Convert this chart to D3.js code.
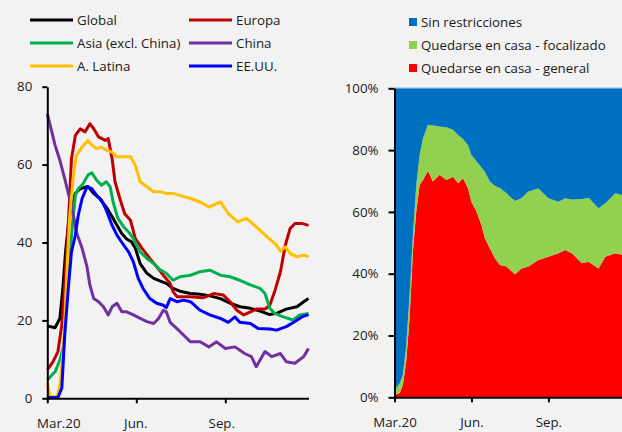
<!DOCTYPE html>
<html><head><meta charset="utf-8">
<script src="https://cdn.jsdelivr.net/npm/d3@7"></script>
<style>
html,body{margin:0;padding:0;background:#F2F2F2;}
svg{display:block;font-family:"Open Sans",sans-serif;}
</style></head><body>
<svg id="c" width="622" height="432"></svg>
<script>
// ---------- DATA (day offset from 1 Mar 2020, value) ----------
const seriesNames = ["Global","Europa","Asia (excl. China)","China","A. Latina","EE.UU."];
const seriesColors = ["#000000","#C00000","#00B050","#7030A0","#FFC000","#0000FF"];

const globalVals = [[0,18.6],[8,18.1],[13,20.5],[16,28],[19,38],[22,45],[25,50],[29,52.6],[34,53.8],[42,54.4],[48,52.6],[54,51.3],[61,49.1],[67,46.6],[72,44.4],[77,42.3],[82,40.9],[87,40.2],[91,38.5],[96,34.6],[103,32.1],[110,30.8],[117,30.1],[123,29.5],[130,28.2],[137,27.5],[148,26.9],[158,26.7],[168,26.3],[179,25.6],[189,24.4],[199,23.5],[210,23.1],[220,22.4],[230,21.5],[237,21.8],[247,22.9],[258,23.5],[265,24.8],[270,25.6]];
const europaVals = [[0,7.3],[6,9.4],[11,12.0],[15,18.8],[18,29.1],[22,46.2],[25,61.5],[29,67.5],[34,69.2],[39,68.4],[44,70.5],[48,69.2],[53,67.1],[60,66.2],[63,66.7],[67,61.5],[70,55.6],[75,51.3],[80,47.4],[86,45.7],[91,41.0],[98,38.5],[106,35.9],[113,33.8],[120,31.6],[127,29.5],[130,27.4],[134,26.1],[148,26.1],[161,25.8],[172,26.9],[182,26.5],[189,24.8],[196,22.6],[203,21.4],[210,22.2],[216,22.9],[225,22.9],[230,23.9],[235,27.4],[241,32.5],[246,39.3],[251,43.6],[256,44.9],[263,44.9],[270,44.4]];
const asiaVals = [[0,4.7],[8,6.8],[13,9.8],[17,13.7],[20,24.8],[25,41.9],[29,52.1],[32,53.8],[37,55.1],[42,57.3],[46,57.9],[51,56.0],[56,54.7],[61,55.6],[65,54.3],[68,50.4],[73,46.2],[79,44.0],[84,42.7],[89,41.0],[96,37.6],[103,35.9],[110,34.6],[117,32.9],[123,32.1],[130,30.3],[137,31.2],[148,31.6],[158,32.5],[168,32.9],[179,31.6],[189,31.2],[199,30.3],[210,29.1],[220,28.2],[225,26.9],[230,23.1],[235,21.8],[244,20.9],[254,20.1],[261,21.4],[270,21.8]];
const chinaVals = [[0,73.1],[3,70.1],[8,65.0],[13,61.1],[18,56.4],[23,51.3],[27,47.0],[30,42.7],[36,38.5],[41,33.8],[44,29.1],[48,25.6],[53,24.8],[58,23.5],[63,21.4],[67,23.5],[72,24.4],[77,22.2],[82,22.2],[89,21.4],[96,20.5],[103,19.7],[110,19.2],[115,20.5],[120,22.6],[123,22.2],[127,19.5],[134,17.9],[141,16.2],[148,14.5],[158,14.5],[167,13.2],[175,14.5],[184,12.8],[194,13.2],[204,11.5],[211,10.7],[216,8.1],[225,12.0],[232,10.7],[241,11.5],[247,9.4],[256,9.0],[265,10.7],[270,12.8]];
const latamVals = [[0,3.9],[3,0.4],[10,0.4],[13,3.4],[17,13.7],[20,30.8],[23,46.2],[27,57.3],[30,62.4],[36,64.5],[42,66.2],[46,65.0],[51,64.1],[56,64.5],[61,63.7],[67,63.2],[72,62.0],[79,62.0],[86,62.0],[91,59.8],[96,55.6],[103,54.3],[110,53.0],[117,53.0],[123,52.6],[130,52.6],[137,52.1],[148,51.3],[158,50.4],[167,49.1],[179,50.4],[187,47.4],[197,45.3],[206,46.2],[216,44.0],[227,41.5],[237,39.3],[241,37.8],[246,38.9],[251,37.2],[258,36.3],[265,36.8],[270,36.3]];
const usaVals = [[0,0.2],[11,0.2],[15,2.6],[18,16.2],[22,29.1],[25,37.6],[29,41.9],[32,47.0],[36,51.3],[41,54.3],[46,53.8],[51,52.1],[56,50.9],[61,48.3],[67,44.4],[72,41.9],[79,39.3],[84,37.6],[89,35.0],[94,30.8],[99,28.2],[106,25.6],[113,24.4],[120,23.9],[123,23.3],[127,25.6],[134,24.8],[141,25.2],[148,24.8],[158,22.6],[168,21.4],[179,20.5],[187,19.5],[194,20.9],[199,19.5],[210,19.2],[218,17.9],[230,17.8],[237,17.5],[247,18.4],[256,19.7],[263,20.9],[270,21.5]];
const lineSeries = [globalVals, europaVals, asiaVals, chinaVals, latamVals, usaVals];

// Right chart: stacked shares (%)
const stackKeys = ["general","focalizado","sin"];
const stackNames = ["Sin restricciones","Quedarse en casa - focalizado","Quedarse en casa - general"];
const stackColors = {general:"#FF0000", focalizado:"#92D050", sin:"#0070C0"};
const stackDays  = [0,6,10,14,18,22,26,30,34,40,46,54,62,70,76,82,88,92,98,104,108,114,120,126,134,144,152,160,172,184,196,204,212,224,232,244,252,264,272];
const generalVals    = [0.8,1.3,4.0,11.5,25.6,47.1,60.1,68.7,70.3,73.2,69.8,72.0,70.3,71.4,69.3,70.9,67.6,63.3,60.1,55.8,51.5,48.2,45.0,42.8,42.3,39.8,41.7,42.3,44.4,45.5,46.6,47.7,46.6,43.4,43.9,41.7,45.5,46.6,46.1];
const focalizadoVals = [1.6,3.2,3.2,5.4,7.5,5.4,8.6,9.7,13.5,15.0,18.2,15.6,17.1,15.2,15.6,12.7,13.9,15.1,16.3,18.6,21.5,21.6,23.5,24.9,23.7,23.7,22.8,24.3,23.2,18.9,16.7,16.7,17.4,20.8,20.7,19.5,17.3,19.4,19.4];
const sinVals        = [97.6,95.5,92.8,83.1,66.9,47.5,31.3,21.6,16.2,11.8,12.0,12.4,12.6,13.4,15.1,16.4,18.5,21.6,23.6,25.6,27.0,30.2,31.5,32.3,34.0,36.5,35.5,33.4,32.4,35.6,36.7,35.6,36.0,35.8,35.4,38.8,37.2,34.0,34.5];

const xTickDates = [new Date(Date.UTC(2020,2,1)), new Date(Date.UTC(2020,5,1)), new Date(Date.UTC(2020,8,1))];
const xTickLabels = ["Mar.20","Jun.","Sep."];
const yTicksLeft = [0,20,40,60,80];
const yTicksRight = [0,20,40,60,80,100];

// ---------- DRAW ----------
const svg = d3.select("#c");
const day0 = Date.UTC(2020,2,1);
const toDate = d => new Date(day0 + d*86400000);
const FS = 13.3;

// Left chart
const xL = d3.scaleUtc().domain([toDate(0), toDate(270)]).range([47.3, 308.5]);
const yL = d3.scaleLinear().domain([0,80]).range([398.3, 86.7]);
const line = d3.line().x(d=>xL(toDate(d[0]))).y(d=>yL(d[1]));

const gL = svg.append("g");
lineSeries.forEach((s,i)=>{
  gL.append("path").attr("d", line(s)).attr("fill","none")
    .attr("stroke", seriesColors[i]).attr("stroke-width",3)
    .attr("stroke-linejoin","round").attr("stroke-linecap","butt");
});

const axL = svg.append("g").attr("transform","translate(47.3,0)")
  .call(d3.axisLeft(yL).tickValues(yTicksLeft).tickSize(5).tickSizeOuter(0).tickPadding(10).tickFormat(d3.format("d")));
const axLB = svg.append("g").attr("transform","translate(0,398.3)")
  .call(d3.axisBottom(xL).tickValues(xTickDates).tickSize(5).tickSizeOuter(0).tickPadding(15).tickFormat((d,i)=>xTickLabels[i]));
axLB.selectAll(".tick text").attr("dx",(d,i)=> i===0?11:(i===2?-4:-1));

// Right chart
const xR = d3.scaleUtc().domain([toDate(0), toDate(272)]).range([394.5, 622]);
const yR = d3.scaleLinear().domain([0,100]).range([397.3, 88.3]);
const table = stackDays.map((d,i)=>({day:d, general:generalVals[i], focalizado:focalizadoVals[i], sin:sinVals[i]}));
const stacked = d3.stack().keys(stackKeys)(table);
const area = d3.area().x(d=>xR(toDate(d.data.day))).y0(d=>yR(d[0])).y1(d=>yR(d[1]));
const gR = svg.append("g");
stacked.forEach(s=>{
  gR.append("path").attr("d", area(s)).attr("fill", stackColors[s.key]);
});
svg.append("line").attr("x1",xR(toDate(0))).attr("x2",622).attr("y1",yR(100)-0.5).attr("y2",yR(100)-0.5)
  .attr("stroke","#A9C8E6").attr("stroke-width",1);

const axR = svg.append("g").attr("transform","translate(394.5,0)")
  .call(d3.axisLeft(yR).tickValues(yTicksRight).tickSize(6).tickSizeOuter(0).tickPadding(10).tickFormat(d=>d+"%"));
const axRB = svg.append("g").attr("transform","translate(0,397.3)")
  .call(d3.axisBottom(xR).tickValues(xTickDates).tickSize(5).tickSizeOuter(0).tickPadding(15).tickFormat((d,i)=>xTickLabels[i]));

[axL,axLB,axR,axRB].forEach(a=>{
  a.selectAll(".domain").attr("stroke","#000").attr("stroke-width",2);
  a.selectAll(".tick line").attr("stroke","#000").attr("stroke-width",2);
  a.selectAll("text").attr("font-family","'Open Sans',sans-serif").attr("font-size",FS).attr("fill","#1a1a1a");
});

// Left legend
const legPos = [[30,20],[189,20],[30,43],[189,43],[30,66],[189,66]];
seriesNames.forEach((n,i)=>{
  const [lx,ly] = legPos[i];
  svg.append("line").attr("x1",lx).attr("x2",lx+43).attr("y1",ly).attr("y2",ly)
    .attr("stroke",seriesColors[i]).attr("stroke-width",3);
  svg.append("text").attr("x",lx+47).attr("y",ly).attr("dy","0.35em")
    .attr("font-size",FS).attr("fill","#1a1a1a").text(n);
});

// Right legend
const rLegKeys = ["sin","focalizado","general"];
const rLegY = [22,45,68];
stackNames.forEach((n,i)=>{
  svg.append("rect").attr("x",409).attr("y",rLegY[i]-4).attr("width",8).attr("height",8)
    .attr("fill",stackColors[rLegKeys[i]]);
  svg.append("text").attr("x",421).attr("y",rLegY[i]).attr("dy","0.35em")
    .attr("font-size",FS).attr("fill","#1a1a1a").text(n);
});
</script>
</body></html>
